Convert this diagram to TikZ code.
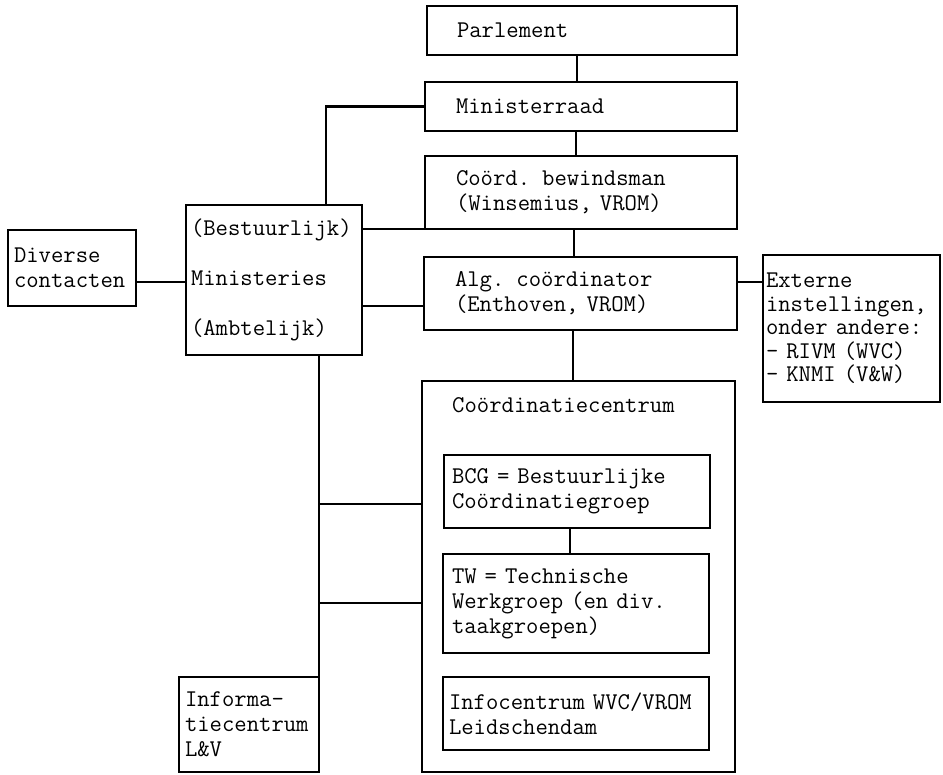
\documentclass[tikz,border=0pt]{standalone}
\usepackage{fontspec}
\begin{document}
\begin{tikzpicture}[x=1pt,y=-1pt,
  lw/.style={line width=2.2pt},
  tf/.style={font=\ttfamily\addfontfeatures{FakeBold=3}\fontsize{24}{25}\selectfont},
  tfx/.style={font=\ttfamily\addfontfeatures{FakeBold=3}\fontsize{24}{23.5}\selectfont},
  box/.style={draw, lw, anchor=north west, align=left, outer sep=0pt,
    inner ysep=0pt, tf},
  txt/.style={anchor=west, inner sep=0pt, tf},
  conn/.style={lw}]
\useasboundingbox (0,0) rectangle (943,775);

\node[box, minimum height=49, inner xsep=30, text width=250] (parl) at (427,6) {Parlement};
\node[box, minimum height=49, inner xsep=31, text width=250] (min) at (425,82) {Ministerraad};
\node[box, minimum height=73, inner xsep=31, text width=250] (coord) at (425,156) {Coörd. bewindsman\\(Winsemius, VROM)};
\node[box, minimum height=73, inner xsep=31, text width=251] (alg) at (424,257) {Alg. coördinator\\(Enthoven, VROM)};
\node[box, minimum height=150, inner xsep=5, text width=166] (mins) at (186,205) {(Bestuurlijk)\\[25pt]Ministeries\\[25pt](Ambtelijk)};
\node[box, minimum height=76, inner xsep=6, text width=116] (div) at (8,230) {Diverse\\contacten};
\node[box, minimum height=147, inner xsep=3, text width=171, tfx] (ext) at (763,255) {Externe\\instellingen,\\onder andere:\\- RIVM (WVC)\\- KNMI (V\&W)};
\node[draw, lw, anchor=north west, outer sep=0pt, inner sep=0pt, minimum width=313, minimum height=391] (cc) at (422,381) {};
\node[txt] (cctitle) at (452,405) {Coördinatiecentrum};
\node[box, minimum height=73, inner xsep=8, text width=250] (bcg) at (444,455) {BCG = Bestuurlijke\\Coördinatiegroep};
\node[box, minimum height=99, inner xsep=9, text width=248] (tw) at (443,554) {TW = Technische\\Werkgroep (en div.\\taakgroepen)};
\node[box, minimum height=73, inner xsep=6, text width=254] (info) at (443,677) {Infocentrum WVC/VROM\\Leidschendam};
\node[box, minimum height=95, inner xsep=6, text width=128] (ic) at (179,677) {Informa-\\tiecentrum\\L\&V};

\coordinate (mtop) at (326,205);
\coordinate (j1) at (320,504);
\coordinate (j2) at (320,603);
\coordinate (v1) at (577,0);
\coordinate (v2) at (576,0);
\coordinate (v3) at (574,0);
\coordinate (v4) at (573,0);
\coordinate (v5) at (570,0);

\draw[conn] (parl.south -| v1) -- (min.north -| v1);
\draw[conn] (min.south -| v2) -- (coord.north -| v2);
\draw[conn] (coord.south -| v3) -- (alg.north -| v3);
\draw[conn] (alg.south -| v4) -- (cc.north -| v4);
\draw[conn] (bcg.south -| v5) -- (tw.north -| v5);
\draw[conn] (min.west) -| (mtop);
\draw[conn] (mins.east |- coord.south west) -- (coord.south west);
\draw[conn] (mins.east |- 0,306) -- (alg.west |- 0,306);
\draw[conn] (div.east |- 0,282) -- (mins.west |- 0,282);
\draw[conn] (alg.east |- 0,282) -- (ext.west |- 0,282);
\draw[conn] (ic.north east |- mins.south) -- (ic.north east);
\draw[conn] (j1) -- (j1 -| cc.west);
\draw[conn] (j2) -- (j2 -| cc.west);
\end{tikzpicture}
\end{document}
